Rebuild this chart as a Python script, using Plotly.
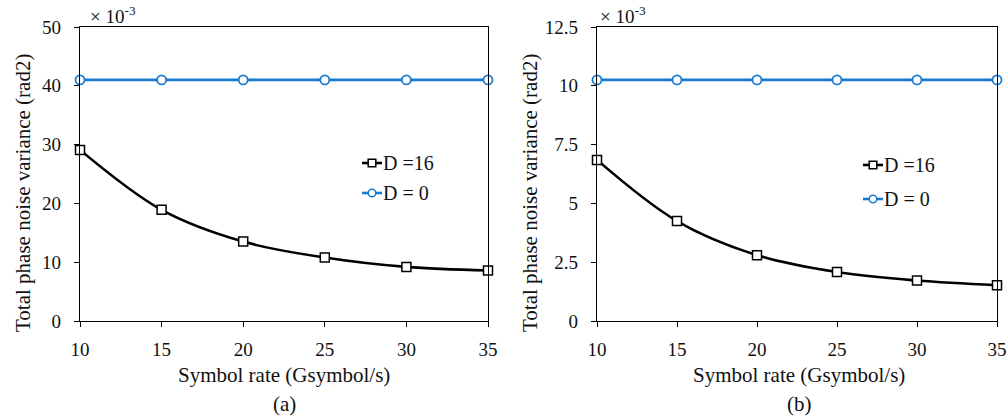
import plotly.graph_objects as go
from plotly.subplots import make_subplots

# Symbol rate (Gsymbol/s)
symbol_rate = [10, 15, 20, 25, 30, 35]

# Panel (a): total phase noise variance, x 1e-3 rad^2
a_d16 = [29.1, 18.9, 13.5, 10.8, 9.2, 8.6]
a_d0 = [41.0, 41.0, 41.0, 41.0, 41.0, 41.0]

# Panel (b): total phase noise variance, x 1e-3 rad^2
b_d16 = [6.85, 4.25, 2.8, 2.08, 1.72, 1.52]
b_d0 = [10.25, 10.25, 10.25, 10.25, 10.25, 10.25]

a_yticks = [0, 10, 20, 30, 40, 50]
b_yticks = [0, 2.5, 5, 7.5, 10, 12.5]
b_yticklabels = ["0", "2.5", "5", "7.5", "10", "12.5"]

FONT = "Liberation Serif"
BLUE = "#1a7ad0"
TXT = "#111111"
W = 1008.0
H = 419.0

fig = make_subplots(rows=1, cols=2)

for col, d16, d0 in [(1, a_d16, a_d0), (2, b_d16, b_d0)]:
    fig.add_trace(go.Scatter(
        x=symbol_rate, y=d16, mode="lines+markers", name="D =16",
        line=dict(color="black", width=2.6, shape="spline"),
        marker=dict(symbol="square", size=9, color="white",
                    line=dict(color="black", width=1.5)),
        cliponaxis=False, showlegend=False), row=1, col=col)
    fig.add_trace(go.Scatter(
        x=symbol_rate, y=d0, mode="lines+markers", name="D = 0",
        line=dict(color=BLUE, width=2.6),
        marker=dict(symbol="circle", size=9, color="white",
                    line=dict(color=BLUE, width=1.8)),
        cliponaxis=False, showlegend=False), row=1, col=col)

ydom = [1 - 321 / H, 1 - 27 / H]
ax_common = dict(showline=True, linecolor="black", linewidth=1.3, mirror=True,
                 ticks="outside", ticklen=5, tickcolor="black", tickwidth=1.2,
                 showgrid=False, zeroline=False, automargin=False,
                 tickfont=dict(family=FONT, size=19, color=TXT))

fig.update_xaxes(range=[10, 35], tickvals=symbol_rate, ticklabelstandoff=6, **ax_common)
fig.update_yaxes(ticklabelstandoff=9, **ax_common)
fig.update_layout(
    template="none",
    width=1008, height=419, margin=dict(l=0, r=0, t=0, b=0, pad=0),
    plot_bgcolor="white", paper_bgcolor="white", showlegend=False,
)
fig.layout.xaxis.domain = [80 / W, 488 / W]
fig.layout.xaxis2.domain = [597 / W, 997 / W]
fig.layout.yaxis.domain = ydom
fig.layout.yaxis2.domain = ydom
fig.layout.yaxis.range = [0, 50]
fig.layout.yaxis.tickvals = a_yticks
fig.layout.yaxis2.range = [0, 12.5]
fig.layout.yaxis2.tickvals = b_yticks
fig.layout.yaxis2.ticktext = b_yticklabels


def px(x):
    return x / W


def py(y):
    return 1 - y / H


# Legend drawn as short line samples with open markers, one block per panel
def legend_entry(xpix, ypix, color, symbol, label):
    fig.add_shape(type="line", xref="paper", yref="paper",
                  x0=px(xpix), x1=px(xpix + 20), y0=py(ypix), y1=py(ypix),
                  line=dict(color=color, width=2.6))
    r = 3.8
    kind = "rect" if symbol == "square" else "circle"
    fig.add_shape(type=kind, xref="paper", yref="paper",
                  x0=px(xpix + 10 - r), x1=px(xpix + 10 + r),
                  y0=py(ypix + r), y1=py(ypix - r),
                  fillcolor="white", line=dict(color=color, width=1.5))
    fig.add_annotation(x=px(xpix + 19), y=py(ypix), xref="paper", yref="paper",
                       text=label, showarrow=False, xanchor="left", yanchor="middle",
                       font=dict(family=FONT, size=20, color=TXT))


legend_entry(362, 163, "black", "square", "D =16")
legend_entry(362, 193, BLUE, "circle", "D = 0")
legend_entry(863, 165, "black", "square", "D =16")
legend_entry(863, 199, BLUE, "circle", "D = 0")

# Axis titles, multiplier notes and panel captions
for xc, ylab_x, cap in [(284, 23, "(a)"), (799, 530, "(b)")]:
    fig.add_annotation(x=px(xc), y=py(375), xref="paper", yref="paper",
                       xanchor="center", yanchor="middle",
                       text="Symbol rate (Gsymbol/s)", showarrow=False,
                       font=dict(family=FONT, size=21, color=TXT))
    fig.add_annotation(x=px(xc), y=py(404), xref="paper", yref="paper",
                       xanchor="center", yanchor="middle",
                       text=cap, showarrow=False,
                       font=dict(family=FONT, size=21, color=TXT))
    fig.add_annotation(x=px(ylab_x), y=py(193), xref="paper", yref="paper",
                       xanchor="center", yanchor="middle",
                       text="Total phase noise variance (rad2)", showarrow=False,
                       textangle=-90, font=dict(family=FONT, size=21, color=TXT))

for xl in (88, 598):
    fig.add_annotation(x=px(xl), y=py(15), xref="paper", yref="paper",
                       text="× 10<sup>-3</sup>", showarrow=False,
                       xanchor="left", yanchor="middle",
                       font=dict(family=FONT, size=19, color=TXT))

fig.write_html("out.html")
